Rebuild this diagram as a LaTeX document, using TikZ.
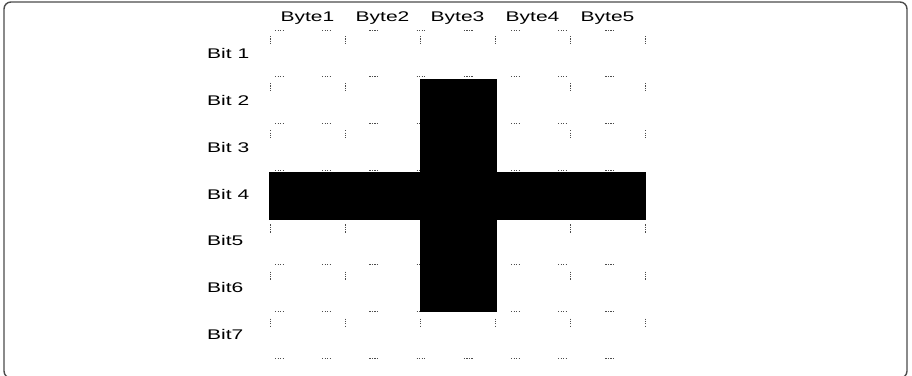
\documentclass[tikz,border=0pt]{standalone}
\usepackage{fontspec}
\newfontfamily\cellfont{Liberation Sans}[FakeStretch=1.5]
\begin{document}
\begin{tikzpicture}[x=1pt, y=-1pt,
    every node/.style={font=\cellfont\fontsize{14}{16}\selectfont, inner sep=0pt},
    frame/.style={
        draw=black!70, line width=1.4pt, rounded corners=7pt,
    },
    gridrow/.style={
        draw=black!70, line width=1pt,
        dash pattern=on 1.2pt off 1.3pt on 1.2pt off 1.3pt on 1.2pt off 1.3pt on 1.2pt off 38.5pt,
        dash phase=-5pt,
    },
    gridcol/.style={
        draw=black!70, line width=1pt,
        dash pattern=on 1.2pt off 1.1pt on 1.2pt off 1.1pt on 1.2pt off 1.1pt on 1.2pt off 39pt,
        dash phase=-6pt,
    },
    bitfill/.style={fill=black},
    bytelabel/.style={anchor=center},
    bitlabel/.style={anchor=west},
]
\useasboundingbox (0,0) rectangle (912,375);

% ── Frame ──────────────────────────────────────────────────────────────
\draw[frame] (4,2) rectangle (907,378);

% ── Dotted grid: 5 bytes x 7 bits ──────────────────────────────────────
\foreach \j in {0,...,7}
    \draw[gridrow] (270,{30+46.86*\j}) -- (645,{30+46.86*\j});
\foreach \k in {0,...,5}
    \draw[gridcol] ({270+75*\k},30) -- ({270+75*\k},358);

% ── Cross of set bits ──────────────────────────────────────────────────
\coordinate (vtop) at (420,79);
\coordinate (vbot) at (497,312);
\coordinate (hleft) at (269,172);
\coordinate (hright) at (646,220);
\fill[bitfill] (vtop) rectangle (vbot);
\fill[bitfill] (hleft) rectangle (hright);

% ── Labels ─────────────────────────────────────────────────────────────
\foreach \k in {1,...,5}
    \node[bytelabel] (byte\k) at ({307.5+75*(\k-1)},18) {Byte\k};
\foreach \txt [count=\j] in {Bit 1, Bit 2, Bit 3, Bit 4, Bit5, Bit6, Bit7}
    \node[bitlabel] (bit\j) at (207,{30+46.86*(\j-0.5)}) {\txt};

\end{tikzpicture}
\end{document}
